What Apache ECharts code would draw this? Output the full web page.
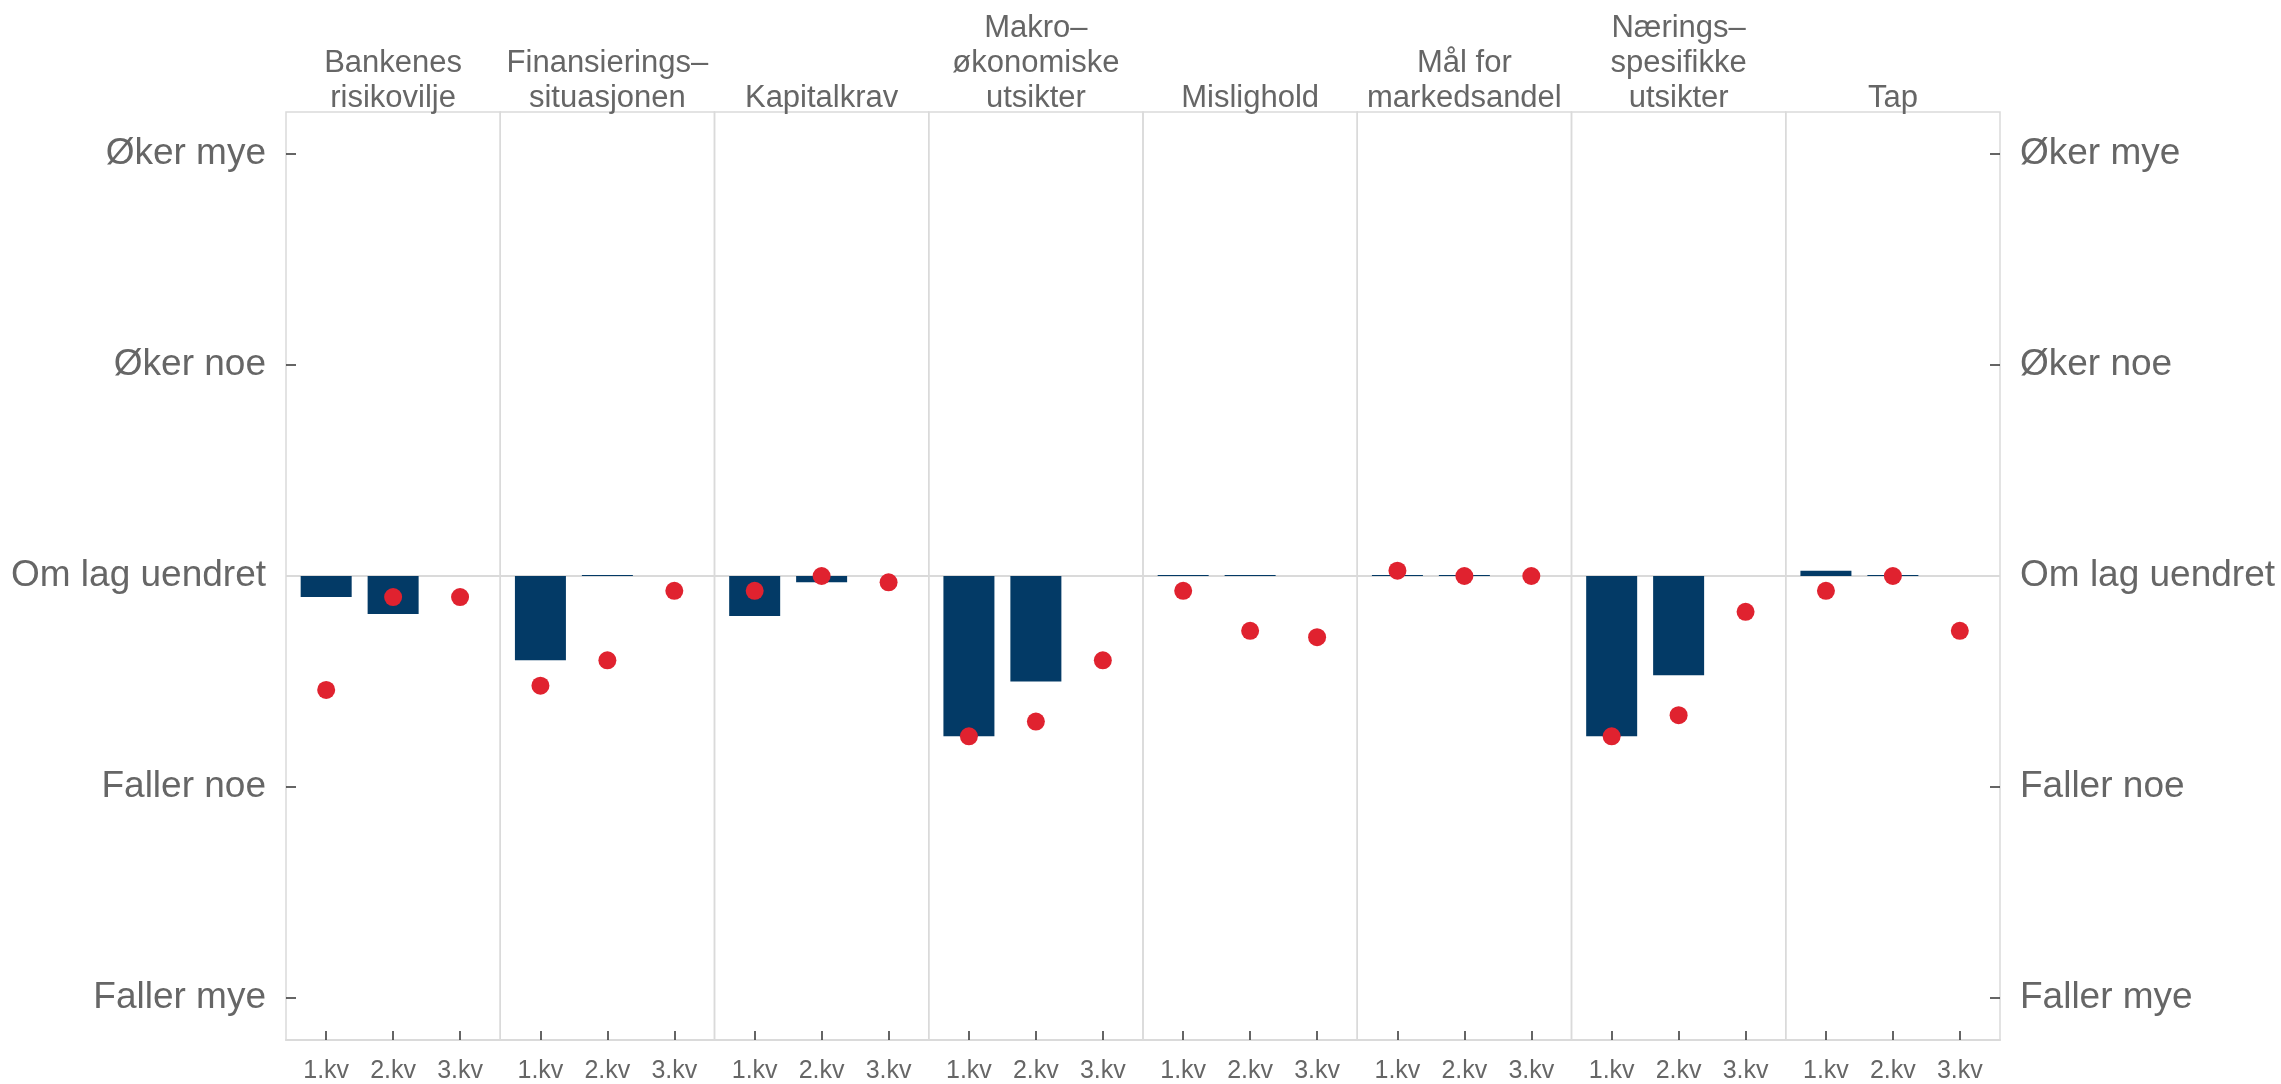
<!DOCTYPE html>
<html>
<head>
<meta charset="utf-8">
<script src="https://cdn.jsdelivr.net/npm/echarts@6/dist/echarts.min.js"></script>
<style>
  html, body { margin: 0; padding: 0; background: #fff; }
  #chart { width: 2281px; height: 1084px; }
</style>
</head>
<body>
<div id="chart"></div>
<script>
// panel headings
const panels = [
  'Bankenes\nrisikovilje',
  'Finansierings–\nsituasjonen',
  'Kapitalkrav',
  'Makro–\nøkonomiske\nutsikter',
  'Mislighold',
  'Mål for\nmarkedsandel',
  'Nærings–\nspesifikke\nutsikter',
  'Tap'
]
const quarters = ['1.kv', '2.kv', '3.kv']
const yTickValues = [-2, -1, 0, 1, 2]
const yTickLabels = ['Faller mye', 'Faller noe', 'Om lag uendret', 'Øker noe', 'Øker mye']

// bars: realised change (no bar for 3.kv)
const barValues = [
  [-0.10, -0.18, null],
  [-0.40, 0, null],
  [-0.19, -0.03, null],
  [-0.76, -0.50, null],
  [0, 0, null],
  [0, 0, null],
  [-0.76, -0.47, null],
  [0.025, 0, null]
]
// dots: expected change
const dotValues = [
  [-0.54, -0.10, -0.10],
  [-0.52, -0.40, -0.07],
  [-0.07, 0, -0.03],
  [-0.76, -0.69, -0.40],
  [-0.07, -0.26, -0.29],
  [0.025, 0, 0],
  [-0.76, -0.66, -0.17],
  [-0.07, 0, -0.26]
]

const FONT = '"Liberation Sans", Arial, sans-serif'
const TEXT = '#666666'
const BORDER = '#dadada'
const BAR = '#033a66'
const DOT = '#e0222f'

const plotLeft = 286
const plotRight = 2000
const plotTop = 112
const plotBottom = 1040
const panelW = (plotRight - plotLeft) / panels.length

const chart = echarts.init(document.getElementById('chart'))

const grids = []
const xAxes = []
const yAxes = []
const series = []
const titles = []

panels.forEach((name, i) => {
  const left = plotLeft + i * panelW
  grids.push({
    left: left,
    top: plotTop,
    width: panelW,
    height: plotBottom - plotTop,
    outerBoundsMode: 'none',
    containLabel: false,
    show: true,
    borderColor: BORDER,
    borderWidth: 1.5,
    backgroundColor: 'transparent'
  })

  titles.push({
    text: name,
    left: left + panelW / 2,
    textAlign: 'center',
    bottom: 1084 - plotTop - 4,
    padding: 0,
    textStyle: {
      fontFamily: FONT,
      fontSize: 31,
      lineHeight: 35,
      fontWeight: 'normal',
      color: TEXT
    }
  })

  xAxes.push({
    gridIndex: i,
    type: 'value',
    min: 0.4,
    max: 3.6,
    axisLine: { show: true, onZero: false, lineStyle: { color: BORDER, width: 2 } },
    axisTick: {
      show: true,
      inside: true,
      length: 9,
      customValues: [1, 2, 3],
      lineStyle: { color: '#333', width: 1.5 }
    },
    axisLabel: {
      show: true,
      customValues: [1, 2, 3],
      formatter: v => quarters[Math.round(v) - 1] || '',
      fontFamily: FONT,
      fontSize: 25,
      color: TEXT,
      margin: 19
    },
    splitLine: { show: false }
  })

  const isFirst = i === 0
  const isLast = i === panels.length - 1
  yAxes.push({
    gridIndex: i,
    type: 'value',
    min: -2.2,
    max: 2.2,
    position: isLast ? 'right' : 'left',
    axisLine: { show: false },
    axisTick: {
      show: isFirst || isLast,
      inside: true,
      length: 10,
      customValues: yTickValues,
      lineStyle: { color: '#333', width: 1.5 }
    },
    axisLabel: {
      show: isFirst || isLast,
      customValues: yTickValues,
      formatter: v => yTickLabels[yTickValues.indexOf(Math.round(v))] || '',
      fontFamily: FONT,
      fontSize: 37,
      color: TEXT,
      margin: 20
    },
    splitLine: { show: false }
  })

  const barData = []
  barValues[i].forEach((v, k) => {
    if (v !== null) barData.push([k + 1, v])
  })
  series.push({
    type: 'bar',
    xAxisIndex: i,
    yAxisIndex: i,
    data: barData,
    barWidth: 51,
    barMinHeight: 1,
    itemStyle: { color: BAR },
    silent: true,
    z: 3,
    markLine: {
      silent: true,
      symbol: 'none',
      label: { show: false },
      lineStyle: { color: BORDER, width: 2, type: 'solid' },
      data: [{ yAxis: 0 }],
      z: 1
    }
  })

  series.push({
    type: 'scatter',
    xAxisIndex: i,
    yAxisIndex: i,
    data: dotValues[i].map((v, k) => [k + 1, v]),
    symbol: 'circle',
    symbolSize: 18,
    itemStyle: { color: DOT, opacity: 1 },
    silent: true,
    z: 5
  })
})

chart.setOption({
  animation: false,
  backgroundColor: '#ffffff',
  title: titles,
  grid: grids,
  xAxis: xAxes,
  yAxis: yAxes,
  series: series
})
</script>
</body>
</html>
